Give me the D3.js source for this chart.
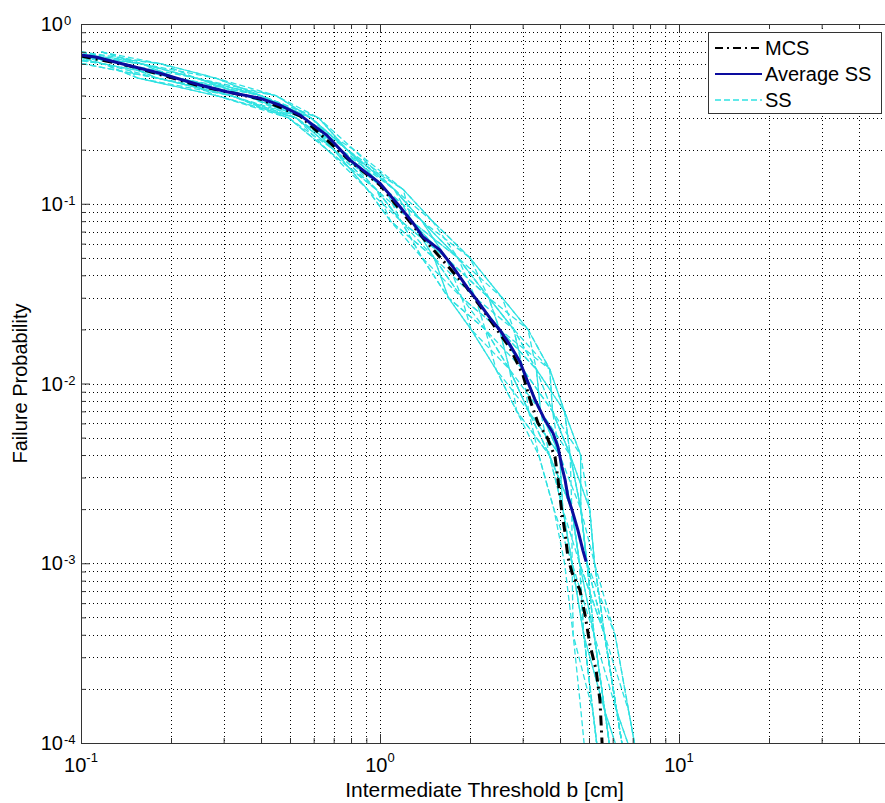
<!DOCTYPE html>
<html>
<head>
<meta charset="utf-8">
<script src="https://cdn.jsdelivr.net/npm/d3@7"></script>
<style>
  body { margin: 0; background: #fff; }
  text { font-family: "Liberation Sans", Arial, sans-serif; fill: #000; }
</style>
</head>
<body>
<svg width="885" height="803"></svg>
<script>
// probability levels shared by the subset simulation runs
const ssLevels = [0.7, 0.6, 0.5, 0.4, 0.3, 0.2, 0.12, 0.08, 0.05, 0.03, 0.02, 0.012, 0.007, 0.004, 0.002, 0.001, 0.0004, 0.00015, 0.00006]

// threshold b [cm] of each SS run at those levels
const ssRuns = [
  [.085, .160, .243, .356, .556, .700, .972, 1.275, 1.663, 2.310, 2.801, 3.333, 3.445, 3.99, 4.38, 4.924, 5.637, 6.192, 6.765],
  [.072, .119, .155, .283, .525, .737, 1.042, 1.176, 1.517, 1.693, 2.016, 2.710, 3.142, 3.395, 3.815, 4.143, 4.425, 4.701, 4.959],
  [.100, .186, .282, .448, .589, .776, 1.117, 1.498, 1.999, 2.562, 3.125, 3.333, 3.776, 4.325, 5.028, 5.217, 6.110, 6.791, 7.503],
  [.085, .138, .180, .317, .556, .737, 1.117, 1.382, 1.663, 2.083, 2.249, 2.710, 3.445, 3.99, 4.087, 4.390, 4.800, 5.153, 5.502],
  [.117, .160, .243, .399, .624, .817, 1.117, 1.382, 1.823, 2.083, 2.51, 3.005, 3.776, 4.688, 4.695, 4.924, 5.2, 5.65, 6.1],
  [.062, .102, .180, .356, .556, .700, .908, 1.085, 1.517, 1.878, 2.51, 3.005, 3.142, 3.683, 4.38, 4.65, 5.637, 6.192, 6.765],
  [.072, .138, .209, .399, .589, .776, 1.196, 1.498, 1.823, 2.310, 3.125, 3.696, 4.141, 4.325, 4.695, 4.924, 5.2, 6.192, 7.503],
  [.100, .138, .209, .317, .495, .665, .972, 1.176, 1.383, 1.878, 2.249, 2.443, 2.866, 3.683, 4.087, 4.390, 5.2, 5.65, 6.765],
  [.085, .119, .209, .448, .624, .776, 1.042, 1.382, 1.999, 2.562, 2.801, 3.005, 3.445, 3.99, 4.38, 4.65, 4.800, 5.153, 5.502],
  [.062, .119, .155, .317, .525, .737, 1.042, 1.275, 1.663, 1.878, 2.51, 3.333, 4.141, 4.688, 4.695, 4.924, 5.637, 6.192, 6.765],
  [.117, .186, .243, .356, .589, .776, 1.042, 1.275, 1.517, 1.693, 2.016, 2.443, 3.142, 3.99, 4.695, 5.217, 5.637, 6.192, 6.765],
  [.072, .102, .180, .356, .525, .665, .972, 1.085, 1.383, 1.693, 2.249, 2.710, 2.866, 3.395, 3.815, 4.390, 4.425, 5.153, 5.502],
  [.100, .160, .282, .399, .556, .817, 1.196, 1.275, 1.823, 2.310, 2.51, 3.696, 3.776, 4.325, 4.38, 4.65, 4.800, 5.153, 5.502],
  [.085, .160, .209, .283, .525, .700, .908, 1.176, 1.663, 2.083, 2.801, 3.333, 4.141, 4.325, 5.028, 5.217, 5.637, 6.791, 7.503],
  [.085, .138, .243, .399, .589, .737, .972, 1.176, 1.383, 1.693, 2.249, 3.005, 3.776, 4.325, 4.695, 4.924, 6.110, 6.791, 7.503],
  [.100, .138, .180, .317, .525, .700, 1.042, 1.382, 1.823, 2.562, 3.125, 3.696, 3.776, 3.99, 4.087, 4.390, 4.800, 5.65, 6.1],
  [.072, .119, .209, .356, .556, .776, 1.117, 1.382, 1.663, 2.083, 2.51, 2.710, 3.142, 3.683, 4.38, 4.65, 5.2, 5.65, 6.765],
  [.117, .160, .209, .399, .624, .776, 1.117, 1.275, 1.517, 1.878, 2.016, 2.443, 2.866, 3.683, 4.087, 4.65, 5.637, 6.192, 6.765],
  [.062, .119, .180, .317, .495, .700, .972, 1.176, 1.663, 2.310, 2.801, 3.005, 3.445, 4.325, 4.695, 4.924, 5.2, 5.65, 6.1],
  [.085, .186, .282, .399, .556, .737, 1.196, 1.498, 1.999, 2.310, 2.801, 3.696, 4.141, 4.688, 5.028, 5.217, 5.637, 6.192, 7.503],
  [.100, .138, .155, .283, .495, .665, .908, 1.085, 1.517, 2.083, 2.51, 3.333, 3.445, 3.683, 4.38, 4.65, 5.2, 5.65, 6.1],
  [.072, .160, .243, .448, .589, .776, 1.042, 1.275, 1.823, 2.310, 2.51, 2.710, 3.142, 3.99, 4.38, 4.390, 4.800, 5.65, 6.1]
]

// average of the SS runs
const avgB = [0.1, 0.1128, 0.1422, 0.1837, 0.209, 0.25, 0.307, 0.397, 0.463, 0.54, 0.597, 0.663, 0.794, 1.0, 1.166, 1.29, 1.393, 1.587, 1.754, 1.954, 2.11, 2.333, 2.519, 2.72, 2.94, 3.10, 3.30, 3.56, 3.79, 3.94, 4.06, 4.16, 4.25, 4.42, 4.59, 4.77, 4.89]
const avgP = [0.672, 0.653, 0.591, 0.532, 0.499, 0.458, 0.420, 0.386, 0.354, 0.312, 0.274, 0.241, 0.175, 0.130, 0.0963, 0.0781, 0.0653, 0.0553, 0.0445, 0.0344, 0.0291, 0.0231, 0.0198, 0.0164, 0.0132, 0.0105, 0.0081, 0.00626, 0.0053, 0.00443, 0.00343, 0.0029, 0.00234, 0.0019, 0.00153, 0.00118, 0.00102]

// Monte Carlo reference
const mcsB = [0.1, 0.1459, 0.25, 0.397, 0.54, 0.794, 1.0, 1.393, 1.954, 2.333, 2.72, 3.008, 3.175, 3.375, 3.617, 3.85, 3.94, 4.06, 4.16, 4.25, 4.39, 4.66, 4.85, 5.04, 5.28, 5.44, 5.53]
const mcsP = [0.664, 0.584, 0.452, 0.383, 0.308, 0.173, 0.127, 0.0645, 0.034, 0.0226, 0.01576, 0.01115, 0.0081, 0.00603, 0.00504, 0.0039, 0.0029, 0.0019, 0.00147, 0.00108, 0.000883, 0.00071, 0.000515, 0.000351, 0.000255, 0.000173, 0.0001]

const xMajor = [0.1, 1, 10]
const xMajorExp = ["-1", "0", "1"]
const yMajor = [1, 0.1, 0.01, 0.001, 0.0001]
const yMajorExp = ["0", "-1", "-2", "-3", "-4"]
const legendLabels = ["MCS", "Average SS", "SS"]

const svg = d3.select("svg")

const mLeft = 81, mRight = 888, mTop = 24, mBottom = 743

const x = d3.scaleLog().domain([0.1, 50]).range([mLeft, mRight])
const y = d3.scaleLog().domain([1e-4, 1]).range([mBottom, mTop])

// minor tick values (2..9 per decade)
const xMinor = []
for (let k = -1; k <= 1; k++) for (let m = 2; m <= 9; m++) if (m * Math.pow(10, k) <= 50) xMinor.push(+(m * Math.pow(10, k)).toPrecision(3))
const yMinor = []
for (let k = -4; k <= -1; k++) for (let m = 2; m <= 9; m++) yMinor.push(+(m * Math.pow(10, k)).toPrecision(3))

// grid
const grid = svg.append("g").attr("stroke", "#000").attr("stroke-width", 1).attr("stroke-dasharray", "1,3")
xMinor.concat([1, 10]).forEach(v => {
  grid.append("line").attr("x1", Math.round(x(v)) + 0.5).attr("x2", Math.round(x(v)) + 0.5).attr("y1", mTop).attr("y2", mBottom)
})
yMinor.concat([0.1, 0.01, 0.001]).forEach(v => {
  grid.append("line").attr("y1", Math.round(y(v)) + 0.5).attr("y2", Math.round(y(v)) + 0.5).attr("x1", mLeft).attr("x2", mRight)
})

// curves
svg.append("clipPath").attr("id", "clip").append("rect")
  .attr("x", mLeft).attr("y", mTop).attr("width", mRight - mLeft).attr("height", mBottom - mTop)

const plot = svg.append("g").attr("clip-path", "url(#clip)")

const line = d3.line()
  .x(d => x(d[0]))
  .y(d => y(d[1]))

const ssColor = "#2fe2e2"
const avgColor = "#0c0c9e"

ssRuns.forEach(run => {
  plot.append("path")
    .datum(run.map((b, i) => [b, ssLevels[i]]))
    .attr("d", line)
    .attr("fill", "none")
    .attr("stroke", ssColor)
    .attr("stroke-width", 1.3)
    .attr("stroke-dasharray", "6,3")
})

plot.append("path")
  .datum(mcsB.map((b, i) => [b, mcsP[i]]))
  .attr("d", line)
  .attr("fill", "none")
  .attr("stroke", "#000")
  .attr("stroke-width", 3)
  .attr("stroke-dasharray", "10,5,2,5")

plot.append("path")
  .datum(avgB.map((b, i) => [b, avgP[i]]))
  .attr("d", line)
  .attr("fill", "none")
  .attr("stroke", avgColor)
  .attr("stroke-width", 3)

// axes (ticks inward)
const axisColor = "#333"
function styleAxis(g) {
  g.selectAll("path,line").attr("stroke", axisColor)
  g.selectAll("text").remove()
}
svg.append("g").attr("transform", `translate(0,${mBottom})`)
  .call(d3.axisBottom(x).tickValues(xMajor).tickSize(-9).tickSizeOuter(0).tickFormat(""))
  .call(styleAxis)
svg.append("g").attr("transform", `translate(0,${mBottom})`)
  .call(d3.axisBottom(x).tickValues(xMinor).tickSize(-5).tickSizeOuter(0).tickFormat(""))
  .call(styleAxis)
svg.append("g").attr("transform", `translate(0,${mTop})`)
  .call(d3.axisTop(x).tickValues(xMajor).tickSize(-9).tickSizeOuter(0).tickFormat(""))
  .call(styleAxis)
svg.append("g").attr("transform", `translate(0,${mTop})`)
  .call(d3.axisTop(x).tickValues(xMinor).tickSize(-5).tickSizeOuter(0).tickFormat(""))
  .call(styleAxis)
svg.append("g").attr("transform", `translate(${mLeft},0)`)
  .call(d3.axisLeft(y).tickValues(yMajor).tickSize(-9).tickSizeOuter(0).tickFormat(""))
  .call(styleAxis)
svg.append("g").attr("transform", `translate(${mLeft},0)`)
  .call(d3.axisLeft(y).tickValues(yMinor).tickSize(-5).tickSizeOuter(0).tickFormat(""))
  .call(styleAxis)

// tick labels 10^k
xMajor.forEach((v, i) => {
  const t = svg.append("text")
    .attr("x", x(v)).attr("y", 772)
    .attr("text-anchor", "middle")
    .style("font-size", "20px")
  t.append("tspan").text("10")
  t.append("tspan").attr("dy", -10).style("font-size", "13px").text(xMajorExp[i])
})
yMajor.forEach((v, i) => {
  svg.append("text")
    .attr("x", 63).attr("y", y(v) + 7)
    .attr("text-anchor", "end")
    .style("font-size", "20px")
    .text("10")
  svg.append("text")
    .attr("x", 64).attr("y", y(v) + 1)
    .style("font-size", "13px")
    .text(yMajorExp[i])
})

// axis titles
svg.append("text")
  .attr("x", (mLeft + mRight) / 2).attr("y", 797)
  .attr("text-anchor", "middle")
  .style("font-size", "21px")
  .text("Intermediate Threshold b [cm]")

svg.append("text")
  .attr("transform", `translate(27,${(mTop + mBottom) / 2}) rotate(-90)`)
  .attr("text-anchor", "middle")
  .style("font-size", "20px")
  .text("Failure Probability")

// legend
const legend = svg.append("g")
legend.append("rect")
  .attr("x", 708.5).attr("y", 32.5).attr("width", 173).attr("height", 81)
  .attr("fill", "#fff").attr("stroke", axisColor)

const legendStyles = [
  { color: "#000", width: 2, dash: "8,4,2,4" },
  { color: avgColor, width: 2, dash: null },
  { color: ssColor, width: 1.3, dash: "6,3" }
]
legendLabels.forEach((label, i) => {
  const yy = 55 + i * 26
  legend.append("line")
    .attr("x1", 715).attr("x2", 762).attr("y1", yy - 7).attr("y2", yy - 7)
    .attr("stroke", legendStyles[i].color)
    .attr("stroke-width", legendStyles[i].width)
    .attr("stroke-dasharray", legendStyles[i].dash)
  legend.append("text")
    .attr("x", 765).attr("y", yy)
    .style("font-size", "20px")
    .text(label)
})
</script>
</body>
</html>
